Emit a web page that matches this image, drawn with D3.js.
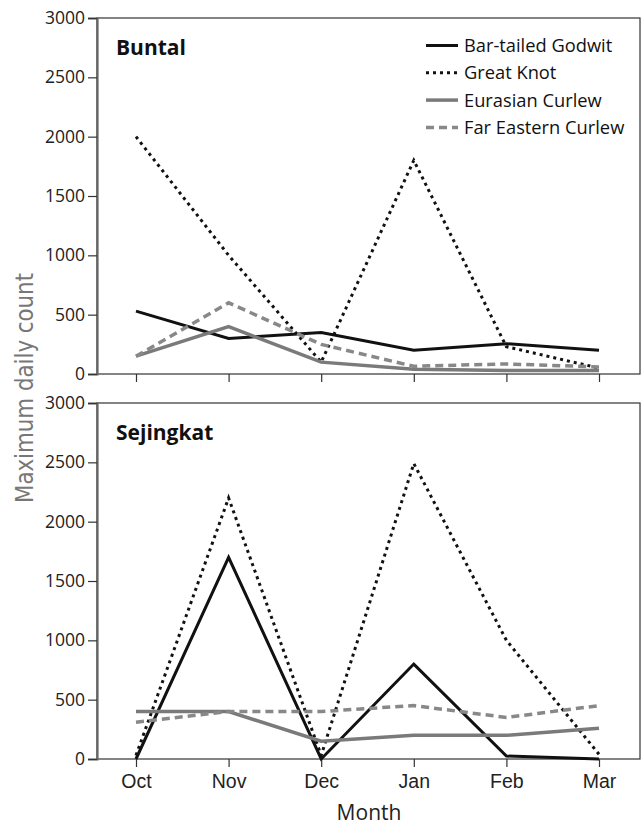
<!DOCTYPE html>
<html><head><meta charset="utf-8">
<script src="https://cdn.jsdelivr.net/npm/d3@7"></script>
<style>
body{margin:0;background:#fff;}
svg{display:block;font-family:"Open Sans","Noto Sans",sans-serif;}
</style></head>
<body><svg id="c" width="641" height="825"></svg>
<script>
const months = ["Oct","Nov","Dec","Jan","Feb","Mar"];
const yTicks = [0,500,1000,1500,2000,2500,3000];
const seriesNames = ["Bar-tailed Godwit","Great Knot","Eurasian Curlew","Far Eastern Curlew"];
const panelNames = ["Buntal","Sejingkat"];
// Buntal
const buntalGodwit = [530,300,350,200,255,200];
const buntalKnot = [2000,1000,100,1800,230,50];
const buntalEurasian = [150,400,100,40,30,30];
const buntalFarEastern = [150,600,250,65,85,60];
// Sejingkat
const sejGodwit = [0,1700,0,800,25,0];
const sejKnot = [30,2200,30,2490,1000,40];
const sejEurasian = [400,400,150,200,200,260];
const sejFarEastern = [310,400,400,450,350,450];

const panels = [
  {name:panelNames[0], data:[buntalGodwit,buntalKnot,buntalEurasian,buntalFarEastern], top:18, bottom:374},
  {name:panelNames[1], data:[sejGodwit,sejKnot,sejEurasian,sejFarEastern], top:403, bottom:759}
];
const styles = [
  {stroke:"#111", width:3, dash:null},
  {stroke:"#111", width:3, dash:"3,4"},
  {stroke:"#7a7a7a", width:3.5, dash:null},
  {stroke:"#888", width:3.5, dash:"8,5"}
];
const svg = d3.select("#c");
const left = 97, right = 640;
const x = d3.scalePoint().domain(months).range([136,599]);

panels.forEach((p,pi)=>{
  const y = d3.scaleLinear().domain([0,3000]).range([p.bottom,p.top]);
  const g = svg.append("g");
  g.append("rect").attr("x",left).attr("y",p.top).attr("width",right-left).attr("height",p.bottom-p.top)
    .attr("fill","none").attr("stroke","#333").attr("stroke-width",1.2);
  const ya = g.append("g").attr("transform",`translate(${left},0)`)
    .call(d3.axisLeft(y).tickValues(yTicks).tickFormat(d3.format("d")).tickSize(9).tickPadding(3));
  ya.select(".domain").attr("stroke","#666").attr("stroke-width",2.2);
  ya.selectAll(".tick line").attr("stroke","#333").attr("stroke-width",1.2);
  ya.selectAll("text").attr("font-size",17.5).attr("fill","#222").attr("font-family","Open Sans, sans-serif");
  const xa = g.append("g").attr("transform",`translate(0,${p.bottom})`)
    .call(d3.axisBottom(x).tickSize(8).tickPadding(7));
  xa.select(".domain").remove();
  xa.selectAll(".tick line").attr("stroke","#333").attr("stroke-width",1.2);
  if(pi===0) xa.selectAll("text").remove();
  else xa.selectAll("text").attr("font-size",19.5).attr("fill","#222");
  const line = d3.line().x((d,i)=>x(months[i])).y(d=>y(d));
  p.data.forEach((vals,si)=>{
    const s = styles[si];
    g.append("path").datum(vals).attr("d",line).attr("fill","none")
      .attr("stroke",s.stroke).attr("stroke-width",s.width)
      .attr("stroke-dasharray",s.dash).attr("stroke-linejoin","miter");
  });
  g.append("text").attr("x",116).attr("y",p.top+37).text(p.name)
    .attr("font-size",21).attr("font-weight","bold").attr("fill","#111");
});

const lg = svg.append("g");
seriesNames.forEach((n,i)=>{
  const yy = 45.5 + i*27.3;
  const s = styles[i];
  lg.append("line").attr("x1",426).attr("x2",458).attr("y1",yy).attr("y2",yy)
    .attr("stroke",s.stroke).attr("stroke-width",s.width).attr("stroke-dasharray",s.dash);
  lg.append("text").attr("x",464).attr("y",yy).attr("dy","0.35em").text(n)
    .attr("font-size",18.3).attr("fill","#111");
});

svg.append("text").attr("transform","translate(33,388) rotate(-90)").attr("text-anchor","middle")
  .attr("font-size",24).attr("fill","#777").attr("font-family","DejaVu Sans Condensed, DejaVu Sans, sans-serif")
  .attr("textLength",230).attr("lengthAdjust","spacingAndGlyphs").text("Maximum daily count");
svg.append("text").attr("x",369).attr("y",820).attr("text-anchor","middle")
  .attr("font-size",21).attr("fill","#222").text("Month");
</script></body></html>
